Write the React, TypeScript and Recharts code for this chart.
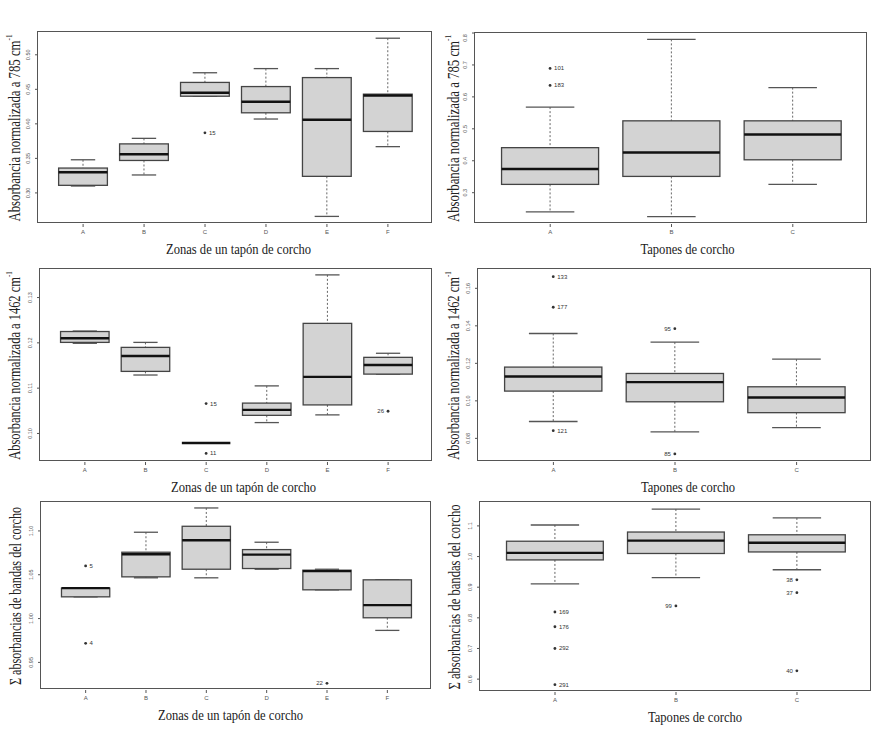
import React from "react";
import { ComposedChart, Bar, XAxis, YAxis } from "recharts";

const zonas = ["A", "B", "C", "D", "E", "F"];
const tapones = ["A", "B", "C"];

// [bigote inferior, Q1, mediana, Q3, bigote superior]
const zonas785 = [
  [0.31, 0.311, 0.33, 0.336, 0.348],
  [0.326, 0.347, 0.356, 0.371, 0.379],
  [0.44, 0.44, 0.445, 0.46, 0.474],
  [0.407, 0.416, 0.432, 0.454, 0.48],
  [0.266, 0.324, 0.406, 0.467, 0.48],
  [0.367, 0.389, 0.441, 0.443, 0.524],
];
const zonas785Out = [{ cat: "C", v: 0.387, id: "15" }];

const tapones785 = [
  [0.24, 0.326, 0.374, 0.441, 0.568],
  [0.225, 0.351, 0.426, 0.525, 0.78],
  [0.326, 0.403, 0.482, 0.525, 0.629],
];
const tapones785Out = [
  { cat: "A", v: 0.689, id: "101" },
  { cat: "A", v: 0.636, id: "183" },
];

const zonas1462 = [
  [0.1199, 0.1201, 0.121, 0.1225, 0.1226],
  [0.1129, 0.1137, 0.1171, 0.119, 0.1201],
  [0.0979, 0.0979, 0.0979, 0.0979, 0.0979],
  [0.1024, 0.104, 0.1052, 0.1067, 0.1105],
  [0.1041, 0.1063, 0.1125, 0.1243, 0.135],
  [0.1131, 0.1131, 0.1151, 0.1168, 0.1177],
];
const zonas1462Out = [
  { cat: "C", v: 0.1066, id: "15" },
  { cat: "C", v: 0.0956, id: "11" },
  { cat: "F", v: 0.1049, id: "26" },
];

const tapones1462 = [
  [0.089, 0.1052, 0.113, 0.118, 0.1359],
  [0.0835, 0.0995, 0.11, 0.1146, 0.1313],
  [0.0857, 0.0937, 0.1018, 0.1075, 0.1222],
];
const tapones1462Out = [
  { cat: "A", v: 0.1662, id: "133" },
  { cat: "A", v: 0.1499, id: "177" },
  { cat: "A", v: 0.0841, id: "121" },
  { cat: "B", v: 0.1385, id: "95" },
  { cat: "B", v: 0.0717, id: "85" },
];

const zonasSum = [
  [1.0248, 1.0248, 1.0347, 1.0347, 1.0347],
  [1.0465, 1.0476, 1.0734, 1.0757, 1.0985],
  [1.0465, 1.0563, 1.0894, 1.1053, 1.1262],
  [1.0563, 1.0571, 1.073, 1.0787, 1.0871],
  [1.0328, 1.0328, 1.0541, 1.0552, 1.0563],
  [0.9865, 1.0009, 1.0153, 1.0442, 1.0442],
];
const zonasSumOut = [
  { cat: "A", v: 1.0601, id: "5" },
  { cat: "A", v: 0.9717, id: "4" },
  { cat: "E", v: 0.9261, id: "22" },
];

const taponesSum = [
  [0.911, 0.989, 1.012, 1.05, 1.103],
  [0.931, 1.01, 1.052, 1.08, 1.155],
  [0.957, 1.015, 1.045, 1.071, 1.126],
];
const taponesSumOut = [
  { cat: "A", v: 0.819, id: "169" },
  { cat: "A", v: 0.771, id: "176" },
  { cat: "A", v: 0.7, id: "292" },
  { cat: "A", v: 0.582, id: "291" },
  { cat: "B", v: 0.839, id: "99" },
  { cat: "C", v: 0.924, id: "38" },
  { cat: "C", v: 0.882, id: "37" },
  { cat: "C", v: 0.627, id: "40" },
];

const ticks785z = [0.3, 0.35, 0.4, 0.45, 0.5];
const ticks785t = [0.3, 0.4, 0.5, 0.6, 0.7, 0.8];
const ticks1462z = [0.1, 0.11, 0.12, 0.13];
const ticks1462t = [0.08, 0.1, 0.12, 0.14, 0.16];
const ticksSumz = [0.95, 1.0, 1.05, 1.1];
const ticksSumt = [0.6, 0.7, 0.8, 0.9, 1.0, 1.1];

// etiquetas de atípicos escritas a la izquierda del punto
const leftLabels = ["26", "95", "85", "22", "99", "38", "37", "40"];

const SERIF = "'Liberation Serif', 'Times New Roman', serif";
const SANS = "'Liberation Sans', Arial, sans-serif";

function buildRows(cats, stats, outs) {
  return cats.map((c, i) => {
    const o = outs.filter((d) => d.cat === c);
    const vals = [stats[i][0], stats[i][4], ...o.map((d) => d.v)];
    return {
      name: c,
      span: [Math.min(...vals), Math.max(...vals)],
      stats: stats[i],
      outs: o,
    };
  });
}

function BoxShape(props) {
  const { x, y, width, height, payload } = props;
  const [lo, hi] = payload.span;
  const top = Math.min(y, y + height);
  const h = Math.abs(height);
  const py = (v) => (hi === lo ? top : top + ((hi - v) * h) / (hi - lo));
  const [wl, q1, md, q3, wh] = payload.stats;
  const cx = x + width / 2;
  const cap = width / 4;
  return (
    <g>
      <line x1={cx} x2={cx} y1={py(wh)} y2={py(q3)} stroke="#666" strokeWidth={1} strokeDasharray="2 2" />
      <line x1={cx} x2={cx} y1={py(q1)} y2={py(wl)} stroke="#666" strokeWidth={1} strokeDasharray="2 2" />
      <line x1={cx - cap} x2={cx + cap} y1={py(wh)} y2={py(wh)} stroke="#555" strokeWidth={1.3} />
      <line x1={cx - cap} x2={cx + cap} y1={py(wl)} y2={py(wl)} stroke="#555" strokeWidth={1.3} />
      <rect x={x} y={py(q3)} width={width} height={py(q1) - py(q3)} fill="#d3d3d3" stroke="#444" strokeWidth={1.3} />
      <line x1={x} x2={x + width} y1={py(md)} y2={py(md)} stroke="#111" strokeWidth={2.4} />
      {payload.outs.map((o) => {
        const left = leftLabels.includes(o.id);
        return (
          <g key={o.id}>
            <circle cx={cx} cy={py(o.v)} r={1.4} fill="#333" />
            <text
              x={left ? cx - 4 : cx + 4}
              y={py(o.v)}
              dy={2}
              textAnchor={left ? "end" : "start"}
              fontSize={6}
              fontFamily={SANS}
              fill="#333"
            >
              {o.id}
            </text>
          </g>
        );
      })}
    </g>
  );
}

function XTick({ x, y, payload }) {
  return (
    <text x={x} y={y} dy={5} textAnchor="middle" fontSize={6} fontFamily={SANS} fill="#555">
      {payload.value}
    </text>
  );
}

function makeYTick(decimals) {
  return function YTick({ x, y, payload }) {
    return (
      <text
        x={x - 3}
        y={y}
        transform={`rotate(-90, ${x - 3}, ${y})`}
        textAnchor="middle"
        fontSize={5.5}
        fontFamily={SANS}
        fill="#555"
      >
        {payload.value.toFixed(decimals)}
      </text>
    );
  };
}

function XTitle({ viewBox, text, sx, dx, dy }) {
  const { x, y, width } = viewBox;
  const cx = x + width / 2 + dx;
  const cy = y + dy;
  return (
    <text
      x={0}
      y={0}
      transform={`translate(${cx}, ${cy}) scale(${sx}, 1)`}
      textAnchor="middle"
      dominantBaseline="central"
      fontSize={15}
      fontFamily={SERIF}
      fill="#222"
    >
      {text}
    </text>
  );
}

function YTitle({ viewBox, text, sup, sx, at }) {
  const { x, y, height } = viewBox;
  const cx = x + at;
  const cy = y + height / 2;
  return (
    <text
      x={0}
      y={0}
      transform={`translate(${cx}, ${cy}) rotate(-90) scale(${sx}, 1)`}
      textAnchor="middle"
      dominantBaseline="central"
      fontSize={16}
      fontFamily={SERIF}
      fill="#222"
    >
      {text}
      {sup ? (
        <tspan fontSize={9} dy={-5}>
          {sup}
        </tspan>
      ) : null}
    </text>
  );
}

function Panel({ col, plot, cats, stats, outs, domain, ticks, decimals, xTitle, xDx, yTitle, ySup, ySx, yAt }) {
  const [pl, pt, pr, pb] = plot;
  const yw = pl - col;
  const mt = 4;
  const xh = 44;
  const mr = 4;
  const pw = pr - pl;
  const n = cats.length;
  const unit = pw / (n * 1.08);
  const pad = unit * 0.04 * n;
  const rows = buildRows(cats, stats, outs);
  return (
    <div style={{ position: "absolute", left: col, top: pt - mt }}>
      <ComposedChart
        width={yw + pw + mr}
        height={mt + (pb - pt) + xh}
        data={rows}
        margin={{ top: mt, right: mr, bottom: 0, left: 0 }}
      >
        <XAxis
          dataKey="name"
          type="category"
          padding={{ left: pad, right: pad }}
          height={xh}
          axisLine={false}
          tickLine={{ stroke: "#555" }}
          tickSize={3}
          tick={<XTick />}
          interval={0}
          label={<XTitle text={xTitle} sx={0.84} dx={xDx} dy={25} />}
        />
        <YAxis
          type="number"
          domain={domain}
          allowDataOverflow
          ticks={ticks}
          width={yw}
          axisLine={false}
          tickLine={{ stroke: "#555" }}
          tickSize={3}
          tick={makeYTick(decimals)}
          label={<YTitle text={yTitle} sup={ySup} sx={ySx} at={yAt} />}
        />
        <Bar dataKey="span" barSize={unit * 0.8} shape={<BoxShape />} isAnimationActive={false} />
      </ComposedChart>
      <div
        style={{
          position: "absolute",
          left: yw - 0.6,
          top: mt - 0.6,
          width: pw,
          height: pb - pt,
          border: "1.2px solid #555",
          boxSizing: "border-box",
          pointerEvents: "none",
        }}
      />
    </div>
  );
}

export default function App() {
  const zonasT = "Zonas de un tapón de corcho";
  const taponesT = "Tapones de corcho";
  const absT = (w) => `Absorbancia normalizada a ${w} cm`;
  const sumT = "Σ absorbancias de bandas del corcho";
  return (
    <div style={{ position: "absolute", left: 0, top: 0, width: 891, height: 735, background: "#fff", overflow: "hidden" }}>
      <Panel col={0} plot={[38, 32, 433, 224]} cats={zonas} stats={zonas785} outs={zonas785Out}
        domain={[0.255, 0.533]} ticks={ticks785z} decimals={2}
        xTitle={zonasT} xDx={3} yTitle={absT(785)} ySup="-1" ySx={0.8} yAt={14} />
      <Panel col={440} plot={[475, 33, 868, 224]} cats={tapones} stats={tapones785} outs={tapones785Out}
        domain={[0.202, 0.8]} ticks={ticks785t} decimals={1}
        xTitle={taponesT} xDx={16} yTitle={absT(785)} ySup="-1" ySx={0.8} yAt={13} />
      <Panel col={0} plot={[40, 269, 433, 462]} cats={zonas} stats={zonas1462} outs={zonas1462Out}
        domain={[0.0937, 0.1363]} ticks={ticks1462z} decimals={2}
        xTitle={zonasT} xDx={7} yTitle={absT(1462)} ySup="-1" ySx={0.78} yAt={14} />
      <Panel col={440} plot={[478, 269, 872, 462]} cats={tapones} stats={tapones1462} outs={tapones1462Out}
        domain={[0.0674, 0.1703]} ticks={ticks1462t} decimals={2}
        xTitle={taponesT} xDx={13} yTitle={absT(1462)} ySup="-1" ySx={0.78} yAt={13} />
      <Panel col={0} plot={[41, 502, 432, 690]} cats={zonas} stats={zonasSum} outs={zonasSumOut}
        domain={[0.9185, 1.133]} ticks={ticksSumz} decimals={2}
        xTitle={zonasT} xDx={-6} yTitle={sumT} ySx={0.76} yAt={15} />
      <Panel col={440} plot={[480, 502, 872, 692]} cats={tapones} stats={taponesSum} outs={taponesSumOut}
        domain={[0.558, 1.178]} ticks={ticksSumt} decimals={1}
        xTitle={taponesT} xDx={19} yTitle={sumT} ySx={0.79} yAt={14} />
    </div>
  );
}
